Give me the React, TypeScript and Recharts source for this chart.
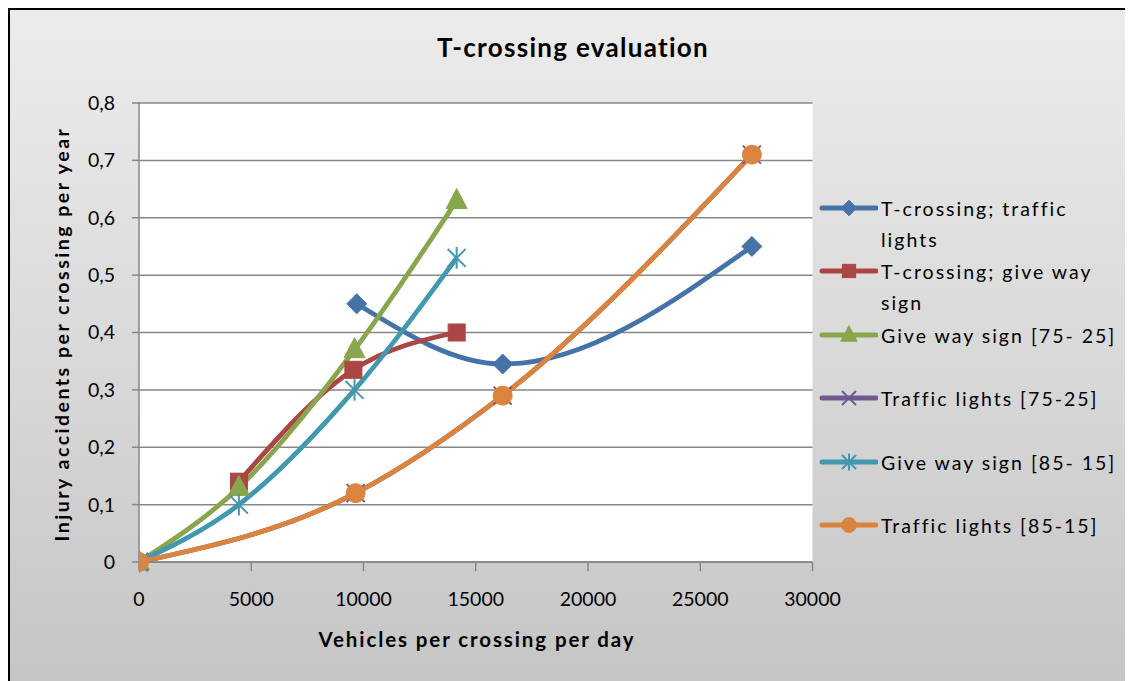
import React from 'react';
import { LineChart, Line, XAxis, YAxis, CartesianGrid, Legend } from 'recharts';

// ---- data ----
const tCrossTrafficX = [9700, 16200, 27300];
const tCrossTrafficY = [0.45, 0.345, 0.55];
const tCrossGiveWayX = [4450, 9550, 14150];
const tCrossGiveWayY = [0.14, 0.335, 0.40];
const giveWayX = [0, 4450, 9600, 14150];
const giveWay7525Y = [0, 0.13, 0.37, 0.63];
const giveWay8515Y = [0, 0.10, 0.30, 0.53];
const trafficX = [0, 9650, 16200, 27300];
const traffic7525Y = [0, 0.12, 0.29, 0.71];
const traffic8515Y = [0, 0.12, 0.29, 0.71];

const xTicks = [0, 5000, 10000, 15000, 20000, 25000, 30000];
const yTicks = [0, 0.1, 0.2, 0.3, 0.4, 0.5, 0.6, 0.7, 0.8];

const seriesNames = [
  'T-crossing; traffic lights',
  'T-crossing; give way sign',
  'Give way sign [75- 25]',
  'Traffic lights [75-25]',
  'Give way sign [85- 15]',
  'Traffic lights [85-15]',
];
const seriesColors = ['#4572A7', '#AA4643', '#89A54E', '#71588F', '#4198AF', '#DB843D'];
const seriesShapes = ['diamond', 'square', 'triangle', 'x', 'star', 'circle'];

const zip = (xs: number[], ys: number[]) => xs.map((x, i) => ({ x, y: ys[i] }));
const seriesData = [
  zip(tCrossTrafficX, tCrossTrafficY),
  zip(tCrossGiveWayX, tCrossGiveWayY),
  zip(giveWayX, giveWay7525Y),
  zip(trafficX, traffic7525Y),
  zip(giveWayX, giveWay8515Y),
  zip(trafficX, traffic8515Y),
];

const FONT = 'Lato, "Open Sans", sans-serif';

function Marker({ shape, cx, cy, color, s = 1 }: any) {
  if (cx == null || cy == null) return null;
  switch (shape) {
    case 'diamond': {
      const h = 10 * s;
      return <polygon points={`${cx},${cy - h} ${cx + h},${cy} ${cx},${cy + h} ${cx - h},${cy}`} fill={color} stroke={color} strokeWidth={1} />;
    }
    case 'square': {
      const h = 8.5 * s;
      return <rect x={cx - h} y={cy - h} width={2 * h} height={2 * h} fill={color} stroke={color} strokeWidth={1} />;
    }
    case 'triangle': {
      const w = 10.5 * s;
      const h = 10 * s;
      return <polygon points={`${cx},${cy - h - 2 * s} ${cx + w},${cy + h - 2 * s} ${cx - w},${cy + h - 2 * s}`} fill={color} stroke={color} strokeWidth={1} />;
    }
    case 'x': {
      const h = 9 * s;
      return (
        <g stroke={color} strokeWidth={2}>
          <line x1={cx - h} y1={cy - h} x2={cx + h} y2={cy + h} />
          <line x1={cx - h} y1={cy + h} x2={cx + h} y2={cy - h} />
        </g>
      );
    }
    case 'star': {
      const h = 9 * s;
      return (
        <g stroke={color} strokeWidth={2}>
          <line x1={cx - h} y1={cy - h} x2={cx + h} y2={cy + h} />
          <line x1={cx - h} y1={cy + h} x2={cx + h} y2={cy - h} />
          <line x1={cx} y1={cy - h * 1.2} x2={cx} y2={cy + h * 1.2} />
        </g>
      );
    }
    default:
      return <circle cx={cx} cy={cy} r={9.5 * s} fill={color} stroke={color} strokeWidth={1} />;
  }
}

const renderLegend = () => (
  <div style={{ position: 'relative', width: 320, height: 380, fontFamily: FONT }}>
    {seriesNames.map((name, i) => {
      const cy = 18 + i * 63.4;
      return (
        <div key={name} style={{ position: 'absolute', left: 0, top: cy - 18, width: 320 }}>
          <svg width={60} height={36} style={{ position: 'absolute', left: 0, top: 0 }}>
            <line x1={4} y1={18} x2={58} y2={18} stroke={seriesColors[i]} strokeWidth={5} strokeLinecap="round" />
            <Marker shape={seriesShapes[i]} cx={31} cy={18} color={seriesColors[i]} s={0.78} />
          </svg>
          <div
            style={{
              position: 'absolute',
              left: 63,
              top: 3,
              width: 242,
              fontSize: 19.5,
              lineHeight: '31px',
              letterSpacing: 2,
              color: '#000',
            }}
          >
            {name}
          </div>
        </div>
      );
    })}
  </div>
);

const fmtY = (v: number) => (v === 0 ? '0' : v.toFixed(1).replace('.', ','));

export default function App() {
  return (
    <div
      style={{
        position: 'relative',
        width: 1121,
        height: 690,
        borderTop: '2px solid #000',
        borderLeft: '2px solid #000',
        borderRight: '1px solid #b0b0b0',
        background: 'linear-gradient(to bottom, #ececec 0%, #d9d9d9 50%, #c4c4c4 100%)',
        fontFamily: FONT,
        overflow: 'hidden',
      }}
    >
      <div
        style={{
          position: 'absolute',
          left: 0,
          width: 1126,
          top: 21,
          textAlign: 'center',
          fontSize: 26,
          fontWeight: 700,
          letterSpacing: 1.3,
          color: '#000',
        }}
      >
        T-crossing evaluation
      </div>
      <div
        style={{
          position: 'absolute',
          left: 52 - 250,
          top: 324 - 14,
          width: 500,
          height: 28,
          lineHeight: '28px',
          textAlign: 'center',
          fontSize: 19.5,
          fontWeight: 700,
          letterSpacing: 2.5,
          transform: 'rotate(-90deg)',
          color: '#000',
        }}
      >
        Injury accidents per crossing per year
      </div>
      <div
        style={{
          position: 'absolute',
          left: 467 - 250,
          top: 617,
          width: 500,
          textAlign: 'center',
          fontSize: 20.5,
          fontWeight: 700,
          letterSpacing: 1.9,
          color: '#000',
        }}
      >
        Vehicles per crossing per day
      </div>
      <LineChart
        width={1121}
        height={690}
        margin={{ top: 93, right: 1121 - 129 - 673.5, bottom: 88, left: 69 }}
        style={{ position: 'absolute', left: 0, top: 0 }}
      >
        <CartesianGrid vertical={false} stroke="#878787" strokeWidth={1.5} fill="#ffffff" fillOpacity={1} />
        <XAxis
          type="number"
          dataKey="x"
          domain={[0, 30000]}
          ticks={xTicks}
          allowDataOverflow
          stroke="#878787"
          strokeWidth={1.5}
          tickSize={9}
          tickMargin={21}
          height={50}
          tick={{ fill: '#000', fontSize: 19.5, fontFamily: FONT }}
        />
        <YAxis
          type="number"
          dataKey="y"
          domain={[0, 0.8]}
          ticks={yTicks}
          tickFormatter={fmtY}
          stroke="#878787"
          strokeWidth={1.5}
          tickSize={7}
          tickMargin={17}
          width={60}
          tick={{ fill: '#000', fontSize: 19.5, fontFamily: FONT }}
        />
        <Legend
          verticalAlign="middle"
          align="center"
          layout="vertical"
          content={renderLegend}
          wrapperStyle={{ position: 'absolute', left: 808, top: 180, width: 320, height: 380 }}
        />
        {seriesData.map((data, i) => (
          <Line
            key={seriesNames[i]}
            name={seriesNames[i]}
            data={data}
            dataKey="y"
            type="monotone"
            stroke={seriesColors[i]}
            strokeWidth={4.8}
            isAnimationActive={false}
            activeDot={false}
            dot={(p: any) => (
              <Marker key={`${i}-${p.index}`} shape={seriesShapes[i]} cx={p.cx} cy={p.cy} color={seriesColors[i]} />
            )}
          />
        ))}
      </LineChart>
    </div>
  );
}
